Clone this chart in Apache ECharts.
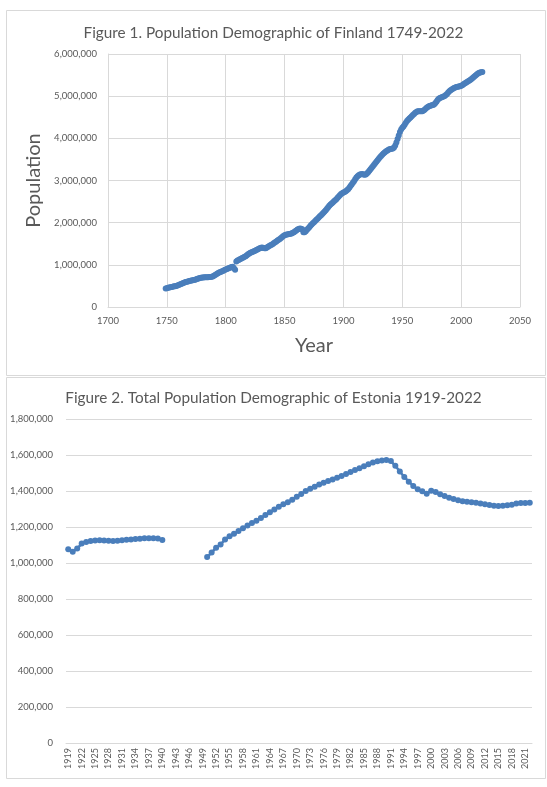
<!DOCTYPE html>
<html>
<head>
<meta charset="utf-8">
<script src="https://cdn.jsdelivr.net/npm/echarts@6/dist/echarts.min.js"></script>
<style>
html,body{margin:0;padding:0;background:#fff;}
#chart{width:547px;height:787px;}
</style>
</head>
<body>
<div id="chart"></div>
<script>
// Figure 1: Finland population (thousands), one value per year starting 1749
const finlandStartYear = 1749;
const finlandPopK = [
  440,447,455,462,468,475,483,490,494,500,
  508,520,534,548,560,572,583,592,600,607,
  614,621,628,634,640,648,658,668,678,686,
  692,697,700,703,705,706,708,710,712,716,
  725,740,760,778,795,810,822,834,848,862,
  876,889,902,914,926,937,948,955,920,885,
  1080,1100,1115,1130,1145,1160,1175,1190,1205,1225,
  1250,1270,1285,1298,1310,1322,1335,1350,1365,1380,
  1395,1405,1410,1400,1392,1395,1410,1428,1445,1462,
  1478,1495,1515,1535,1555,1575,1595,1615,1635,1660,
  1685,1700,1712,1722,1728,1732,1737,1745,1758,1775,
  1795,1815,1835,1852,1860,1858,1845,1775,1770,1795,
  1830,1862,1893,1925,1955,1985,2012,2040,2068,2095,
  2122,2150,2178,2205,2235,2265,2295,2330,2365,2400,
  2428,2455,2480,2505,2530,2558,2588,2620,2650,2678,
  2700,2715,2730,2748,2768,2795,2830,2868,2905,2945,
  2985,3030,3070,3100,3125,3142,3150,3152,3140,3135,
  3145,3165,3195,3230,3268,3305,3340,3375,3410,3445,
  3480,3515,3550,3580,3610,3640,3665,3688,3708,3725,
  3740,3748,3752,3760,3785,3830,3900,3985,4070,4150,
  4210,4250,4280,4320,4370,4410,4440,4470,4495,4525,
  4555,4580,4605,4625,4640,4645,4645,4642,4645,4660,
  4680,4705,4730,4750,4765,4775,4782,4790,4805,4830,
  4870,4910,4938,4955,4968,4980,4992,5005,5025,5050,
  5085,5115,5140,5160,5178,5192,5205,5215,5222,5228,
  5235,5245,5260,5280,5300,5318,5335,5352,5370,5390,
  5412,5435,5460,5485,5510,5530,5548,5562,5570,5575
];
const finlandXTicks = [1700, 2050, 50];     // min, max, step
const finlandYTicks = [0, 6000000, 1000000];

// Figure 2: Estonia total population (thousands), 1919-2022, null = no data
const estoniaYears = [];
for (let y = 1919; y <= 2022; y++) estoniaYears.push(String(y));
const estoniaPopK = [
  1077,1062,1080,1108,1117,1122,1125,1126,1125,1124,
  1122,1124,1126,1129,1131,1133,1135,1137,1138,1138,
  1136,1128,
  null,null,null,null,null,null,null,null,null,
  1033,1058,1085,1103,1130,1148,1162,1178,1193,1208,
  1222,1235,1250,1266,1282,1297,1313,1327,1338,1352,
  1368,1384,1400,1413,1424,1436,1446,1455,1464,1474,
  1484,1495,1505,1516,1526,1537,1548,1558,1565,1570,
  1572,1566,1540,1508,1478,1452,1428,1410,1398,1385,
  1402,1395,1382,1372,1362,1355,1348,1343,1340,1337,
  1335,1331,1327,1322,1318,1316,1318,1321,1324,1330,
  1334,1334,1335
];
const estoniaYTicks = [0, 1800000, 200000];

const finlandData = finlandPopK.map((v, i) => [finlandStartYear + i, v * 1000]);
const estoniaData = estoniaPopK.map(v => v === null ? null : v * 1000);

const FONT = 'Lato';
const TXT = '#595959';
const GRID = '#d9d9d9';
const BLUE = '#4a7ebb';
const fmt = v => Number(v).toLocaleString('en-US');

const chart = echarts.init(document.getElementById('chart'), null, {renderer: 'canvas'});
chart.setOption({
  animation: false,
  backgroundColor: '#fff',
  textStyle: {fontFamily: FONT},
  graphic: [
    {type: 'rect', shape: {x: 6.5, y: 10.5, width: 539, height: 365}, style: {fill: 'none', stroke: GRID, lineWidth: 1}},
    {type: 'rect', shape: {x: 6.5, y: 377.5, width: 539, height: 401}, style: {fill: 'none', stroke: GRID, lineWidth: 1}}
  ],
  title: [
    {text: 'Figure 1. Population Demographic of Finland 1749-2022', left: 'center', top: 21,
     textStyle: {fontFamily: FONT, fontSize: 15.3, fontWeight: 'normal', color: TXT}},
    {text: 'Figure 2. Total Population Demographic of Estonia 1919-2022', left: 'center', top: 386,
     textStyle: {fontFamily: FONT, fontSize: 15.3, fontWeight: 'normal', color: TXT}}
  ],
  grid: [
    {left: 108, top: 54, width: 412, height: 253},
    {left: 66, top: 419, width: 466, height: 324}
  ],
  xAxis: [
    {type: 'value', gridIndex: 0, min: finlandXTicks[0], max: finlandXTicks[1], interval: finlandXTicks[2],
     name: 'Year', nameLocation: 'middle', nameGap: 29,
     nameTextStyle: {fontFamily: FONT, fontSize: 20, color: TXT},
     axisLine: {show: true, lineStyle: {color: GRID}},
     axisTick: {show: false},
     axisLabel: {fontFamily: FONT, fontSize: 9.5, color: TXT, margin: 9, formatter: v => String(v)},
     splitLine: {show: true, lineStyle: {color: GRID}}},
    {type: 'category', gridIndex: 1, data: estoniaYears, boundaryGap: true,
     axisLine: {show: true, lineStyle: {color: GRID}},
     axisTick: {show: false},
     axisLabel: {fontFamily: FONT, fontSize: 9, color: TXT, rotate: 90, interval: 2, margin: 5},
     splitLine: {show: false}}
  ],
  yAxis: [
    {type: 'value', gridIndex: 0, min: finlandYTicks[0], max: finlandYTicks[1], interval: finlandYTicks[2],
     name: 'Population', nameLocation: 'middle', nameGap: 62,
     nameTextStyle: {fontFamily: FONT, fontSize: 20, color: TXT},
     axisLine: {show: true, lineStyle: {color: GRID}},
     axisTick: {show: false},
     axisLabel: {fontFamily: FONT, fontSize: 9.5, color: TXT, margin: 11, formatter: fmt},
     splitLine: {show: true, lineStyle: {color: GRID}}},
    {type: 'value', gridIndex: 1, min: estoniaYTicks[0], max: estoniaYTicks[1], interval: estoniaYTicks[2],
     axisLine: {show: false},
     axisTick: {show: false},
     axisLabel: {fontFamily: FONT, fontSize: 9.5, color: TXT, margin: 13, formatter: fmt},
     splitLine: {show: true, lineStyle: {color: GRID}}}
  ],
  series: [
    {type: 'scatter', xAxisIndex: 0, yAxisIndex: 0, data: finlandData,
     symbol: 'circle', symbolSize: 6, itemStyle: {color: BLUE, opacity: 1}},
    {type: 'line', xAxisIndex: 1, yAxisIndex: 1, data: estoniaData, connectNulls: false,
     symbol: 'circle', symbolSize: 6, showSymbol: true, showAllSymbol: true,
     lineStyle: {color: BLUE, width: 2.5}, itemStyle: {color: BLUE, borderWidth: 0}}
  ]
});
</script>
</body>
</html>
